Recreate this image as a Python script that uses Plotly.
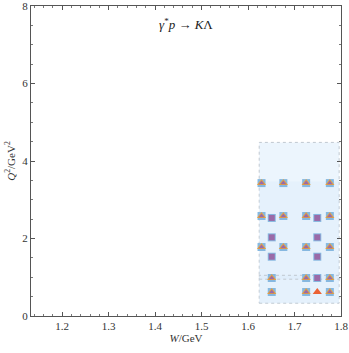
import plotly.graph_objects as go

# data points without the triangle marker (squares only)
w_sq = [1.651, 1.749, 1.651, 1.749, 1.651, 1.749, 1.749]
q2_sq = [2.53, 2.53, 2.03, 2.03, 1.53, 1.53, 0.98]

# data points with squares and triangle overlays
w_tri = [1.629, 1.676, 1.725, 1.776,
         1.629, 1.676, 1.725, 1.776,
         1.629, 1.676, 1.725, 1.776,
         1.651, 1.725, 1.776,
         1.651, 1.725, 1.776]
q2_tri = [3.43, 3.43, 3.43, 3.43,
          2.58, 2.58, 2.58, 2.58,
          1.78, 1.78, 1.78, 1.78,
          0.98, 0.98, 0.98,
          0.62, 0.62, 0.62]

# single point with only the red triangle
w_red = [1.749]
q2_red = [0.62]

# shaded region bounds
box_w = [1.624, 1.796]
box_q2 = [0.33, 4.48]
box_q2_inner = [0.33, 3.47]
band_q2 = [0.95, 1.05]

font = "Liberation Serif, Times New Roman, serif"

fig = go.Figure()

fig.add_shape(type="rect", x0=box_w[0], x1=box_w[1], y0=box_q2[0], y1=box_q2[1],
              fillcolor="rgba(205,228,250,0.38)", line=dict(color="#c0c8d0", width=1, dash="dot"),
              layer="below")
fig.add_shape(type="rect", x0=box_w[0], x1=box_w[1], y0=box_q2_inner[0], y1=box_q2_inner[1],
              fillcolor="rgba(205,228,250,0.22)", line=dict(width=0), layer="below")
fig.add_shape(type="rect", x0=box_w[0], x1=box_w[1], y0=band_q2[0], y1=band_q2[1],
              fillcolor="rgba(205,228,250,0.2)", line=dict(color="#c0c8d0", width=1, dash="dot"),
              layer="below")

w_all = w_sq + w_tri
q2_all = q2_sq + q2_tri

fig.add_trace(go.Scatter(x=w_all, y=q2_all, mode="markers",
                         marker=dict(symbol="square", size=8, color="#86b8e0"),
                         showlegend=False))
fig.add_trace(go.Scatter(x=w_sq, y=q2_sq, mode="markers",
                         marker=dict(symbol="square", size=6, color="#9a6aa8"),
                         showlegend=False))
fig.add_trace(go.Scatter(x=w_tri, y=q2_tri, mode="markers",
                         marker=dict(symbol="triangle-up", size=8, color="#e9a23b"),
                         showlegend=False))
fig.add_trace(go.Scatter(x=w_tri, y=q2_tri, mode="markers",
                         marker=dict(symbol="triangle-up", size=5, color="#9a6aa8"),
                         showlegend=False))
fig.add_trace(go.Scatter(x=w_red, y=q2_red, mode="markers",
                         marker=dict(symbol="triangle-up", size=8, color="#eb6235"),
                         showlegend=False))

axis_common = dict(
    showgrid=False, zeroline=False, showline=True, linecolor="#555555", linewidth=1,
    mirror="allticks", ticks="inside", ticklen=4, tickcolor="#555555", automargin=False,
    ticklabeloverflow="allow",
    tickfont=dict(family=font, size=11, color="#333333"),
)

fig.update_xaxes(range=[1.133, 1.8], tickvals=[1.2, 1.3, 1.4, 1.5, 1.6, 1.7, 1.8],
                 ticktext=["1.2", "1.3", "1.4", "1.5", "1.6", "1.7", "1.8"],
                 minor=dict(ticks="inside", dtick=0.02, tick0=1.0, ticklen=2, tickcolor="#777777"),
                 title=dict(text="<i>W</i>/GeV", font=dict(family=font, size=11, color="#333333"),
                            standoff=1),
                 **axis_common)
fig.update_yaxes(range=[0, 8], tickvals=[0, 2, 4, 6, 8],
                 minor=dict(ticks="inside", dtick=0.5, ticklen=2, tickcolor="#777777"),
                 title=dict(text="<i>Q</i><sup>2</sup>/GeV<sup>2</sup>",
                            font=dict(family=font, size=11, color="#333333"), standoff=4),
                 **axis_common)

fig.add_annotation(text="<i>γ</i><sup>*</sup><i>p</i> → <i>K</i>Λ", x=0.5, y=1, xref="paper",
                   yref="paper", xanchor="center", yanchor="top", yshift=-8, showarrow=False,
                   font=dict(family=font, size=13, color="#222222"))

fig.update_layout(width=349, height=353, margin=dict(l=31, r=8, t=6, b=37),
                  plot_bgcolor="white", paper_bgcolor="white")

# drop the default page margin so the figure sits at the window's corner
fig.write_html("out.html", config={"displayModeBar": False},
               post_script="document.body.style.margin='0';document.body.style.overflow='hidden';")
